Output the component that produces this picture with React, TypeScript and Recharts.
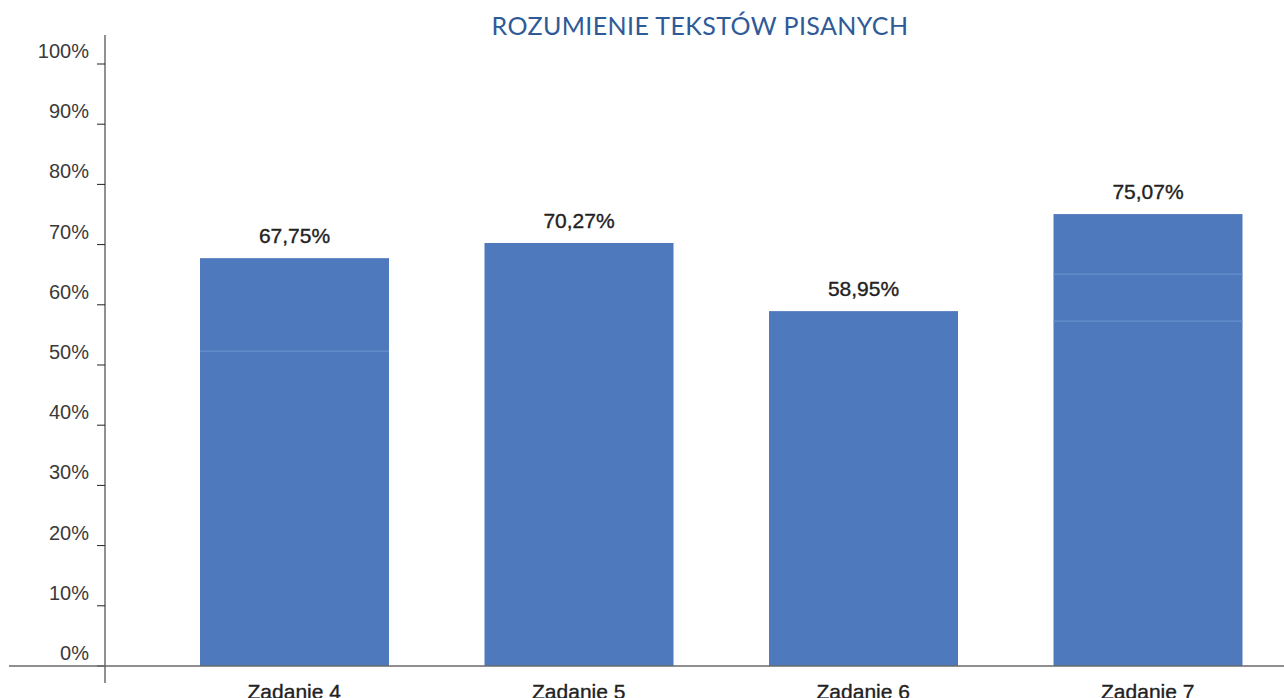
import { Bar, BarChart, LabelList, XAxis, YAxis } from "recharts"

const title = "ROZUMIENIE TEKSTÓW PISANYCH"
const categories = ["Zadanie 4", "Zadanie 5", "Zadanie 6", "Zadanie 7"]
const results = [67.75, 70.27, 58.95, 75.07]
// faint segment edges visible inside some bars
const dividers = [[52.3], [], [], [65.1, 57.3]]
const yTicks = [0, 10, 20, 30, 40, 50, 60, 70, 80, 90, 100]

const data = categories.map((name, i) => ({
  name,
  value: results[i],
  dividers: dividers[i],
}))

const font = '"Liberation Sans", Arial, Helvetica, sans-serif'
const barColor = "#4E7ABD"

const fmt = (v: number) => v.toFixed(2).replace(".", ",") + "%"

function YTick({ x, y, payload }: any) {
  return (
    <g>
      <text x={x} y={y - 6} textAnchor="end" fontSize={20} fill="#3a3a3a" fontFamily={font}>
        {payload.value}%
      </text>
      {payload.value === 0 && (
        <line x1={9} x2={1290} y1={y} y2={y} stroke="#6a6a6a" strokeWidth={1.5} />
      )}
    </g>
  )
}

function XTick({ x, y, payload }: any) {
  return (
    <text
      x={x}
      y={y}
      dy={16}
      textAnchor="middle"
      fontSize={21}
      fill="#222"
      stroke="#222"
      strokeWidth={0.35}
      fontFamily={font}
    >
      {payload.value}
    </text>
  )
}

function BarShape({ x, y, width, height, payload }: any) {
  const total = payload.value
  return (
    <g>
      <rect x={x} y={y} width={width} height={height} fill={barColor} />
      {payload.dividers.map((d: number) => {
        const yy = y + height * (1 - d / total)
        return <line key={d} x1={x} x2={x + width} y1={yy} y2={yy} stroke="#6D95D0" strokeWidth={1} />
      })}
    </g>
  )
}

function ValueLabel({ x, y, width, value }: any) {
  return (
    <text
      x={x + width / 2}
      y={y - 15}
      textAnchor="middle"
      fontSize={21}
      fill="#222"
      stroke="#222"
      strokeWidth={0.35}
      fontFamily={font}
    >
      {fmt(value)}
    </text>
  )
}

export default function App() {
  return (
    <div
      style={{
        position: "absolute",
        left: 0,
        top: 0,
        width: 1284,
        height: 698,
        overflow: "hidden",
        background: "#fff",
      }}
    >
      <div
        style={{
          position: "absolute",
          left: 0,
          width: 1400,
          top: 10,
          textAlign: "center",
          fontFamily: 'Lato, "Noto Sans", sans-serif',
          fontSize: 25,
          letterSpacing: 0.4,
          lineHeight: "30px",
          color: "#2E5A98",
        }}
      >
        {title}
      </div>
      <BarChart
        width={1290}
        height={740}
        data={data}
        margin={{ top: 35, right: 0, bottom: 0, left: 0 }}
        barSize={189}
      >
        <XAxis
          dataKey="name"
          axisLine={false}
          tickLine={false}
          tickSize={0}
          tickMargin={0}
          height={57}
          padding={{ left: 47, right: 0 }}
          tick={<XTick />}
          interval={0}
        />
        <YAxis
          domain={[0, 100]}
          ticks={yTicks}
          width={105}
          padding={{ top: 29, bottom: 17 }}
          axisLine={{ stroke: "#222", strokeWidth: 1 }}
          tickLine={{ stroke: "#222", strokeWidth: 1 }}
          tickSize={8}
          tickMargin={8}
          tick={<YTick />}
          interval={0}
        />
        <Bar dataKey="value" shape={<BarShape />} isAnimationActive={false}>
          <LabelList dataKey="value" content={<ValueLabel />} />
        </Bar>
      </BarChart>
    </div>
  )
}
